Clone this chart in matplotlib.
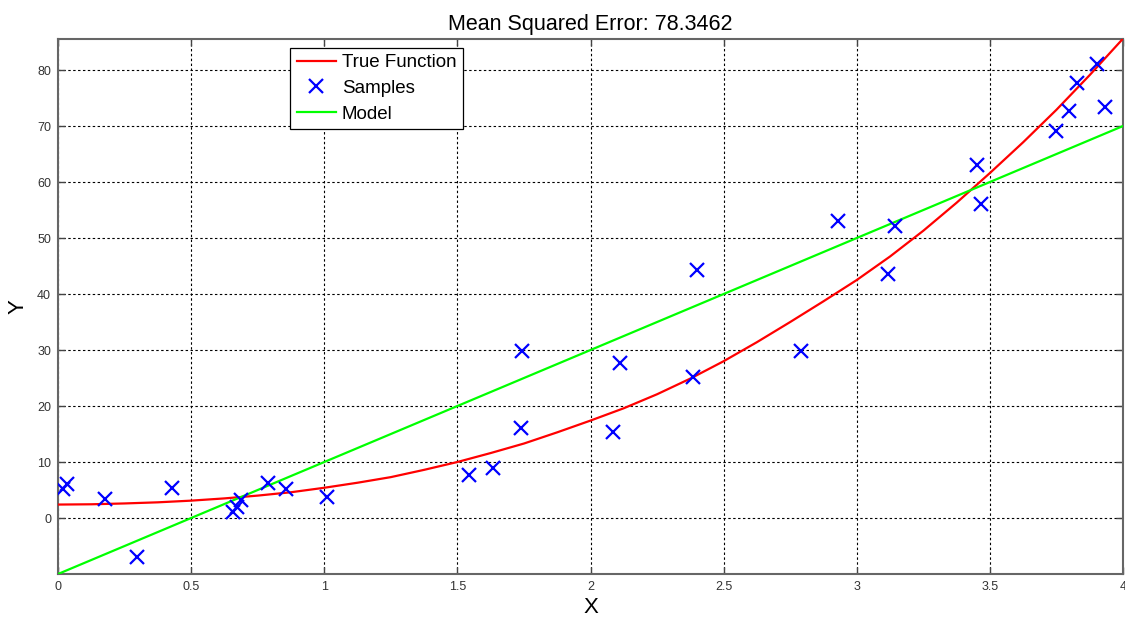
import numpy as np
import matplotlib.pyplot as plt

plt.rcParams['font.family'] = ['Liberation Sans', 'DejaVu Sans']

# ---------------- data ----------------
true_x = [0.0, 0.125, 0.25, 0.375, 0.5, 0.625, 0.75, 0.875, 1.0, 1.125, 1.25,
          1.375, 1.5, 1.625, 1.75, 1.875, 2.0, 2.125, 2.25, 2.375, 2.5,
          2.625, 2.75, 2.875, 3.0, 3.125, 3.25, 3.375, 3.5, 3.625, 3.75,
          3.875, 4.0]
true_y = [2.4, 2.45, 2.6, 2.8, 3.1, 3.5, 4.0, 4.6, 5.4, 6.3, 7.3,
          8.6, 10.0, 11.6, 13.3, 15.3, 17.4, 19.6, 22.1, 24.9, 28.0,
          31.4, 35.0, 38.7, 42.5, 46.7, 51.3, 56.3, 61.6, 67.1, 72.9,
          79.1, 85.6]

sample_x = [0.018, 0.032, 0.177, 0.296, 0.429, 0.656, 0.671, 0.687, 0.790, 0.855,
            1.012, 1.544, 1.633, 1.739, 1.744, 2.083, 2.111, 2.386, 2.401, 2.791,
            2.931, 3.116, 3.144, 3.453, 3.466, 3.747, 3.796, 3.828, 3.901, 3.932]
sample_y = [5.2, 6.1, 3.4, -7.0, 5.4, 1.0, 2.0, 3.3, 6.2, 5.2,
            3.8, 7.7, 8.9, 16.1, 29.9, 15.3, 27.6, 25.2, 44.3, 29.9,
            53.1, 43.5, 52.2, 63.1, 56.0, 69.1, 72.7, 77.7, 81.0, 73.4]

model_x = [0.0, 4.0]
model_y = [-10.0, 70.0]

mse = 78.3462

# ---------------- plot ----------------
fig = plt.figure(figsize=(11.25, 6.17), dpi=100)
ax = fig.add_axes([0.0516, 0.0697, 0.9466, 0.8676])

ax.plot(true_x, true_y, color='#ff0000', lw=1.6, label='True Function', zorder=3)
ax.plot(sample_x, sample_y, 'x', color='#0000ff', ms=10, mew=1.6,
        label='Samples', zorder=4)
ax.plot(model_x, model_y, color='#00ff00', lw=1.6, label='Model', zorder=3)

ax.set_xlim(0, 4)
ax.set_ylim(-10, 85.6)
ax.set_xticks(np.arange(0, 4.01, 0.5))
ax.set_xticklabels(['0', '0.5', '1', '1.5', '2', '2.5', '3', '3.5', '4'])
ax.set_yticks(np.arange(0, 81, 10))

ax.grid(True, color='black', linestyle=(0, (2.2, 2.2)), lw=0.8)
ax.tick_params(direction='in', top=True, right=True, length=5, width=1,
               colors='#444444', labelsize=9, pad=5)
ax.tick_params(labelcolor='#333333')
for s in ax.spines.values():
    s.set_color('#666666')
    s.set_linewidth(1.5)

ax.set_title('Mean Squared Error: %.4f' % mse, fontsize=15.5, pad=6)
ax.set_xlabel('X', fontsize=16, labelpad=3)
ax.set_ylabel('Y', fontsize=16, labelpad=6)

leg = ax.legend(loc='upper left', bbox_to_anchor=(0.218, 0.983), fontsize=13.5,
                fancybox=False, framealpha=1, edgecolor='black', handlelength=2.1,
                borderpad=0.35, labelspacing=0.45, handletextpad=0.3, borderaxespad=0)
leg.get_frame().set_linewidth(0.9)

fig.savefig('out.png', dpi=100)
